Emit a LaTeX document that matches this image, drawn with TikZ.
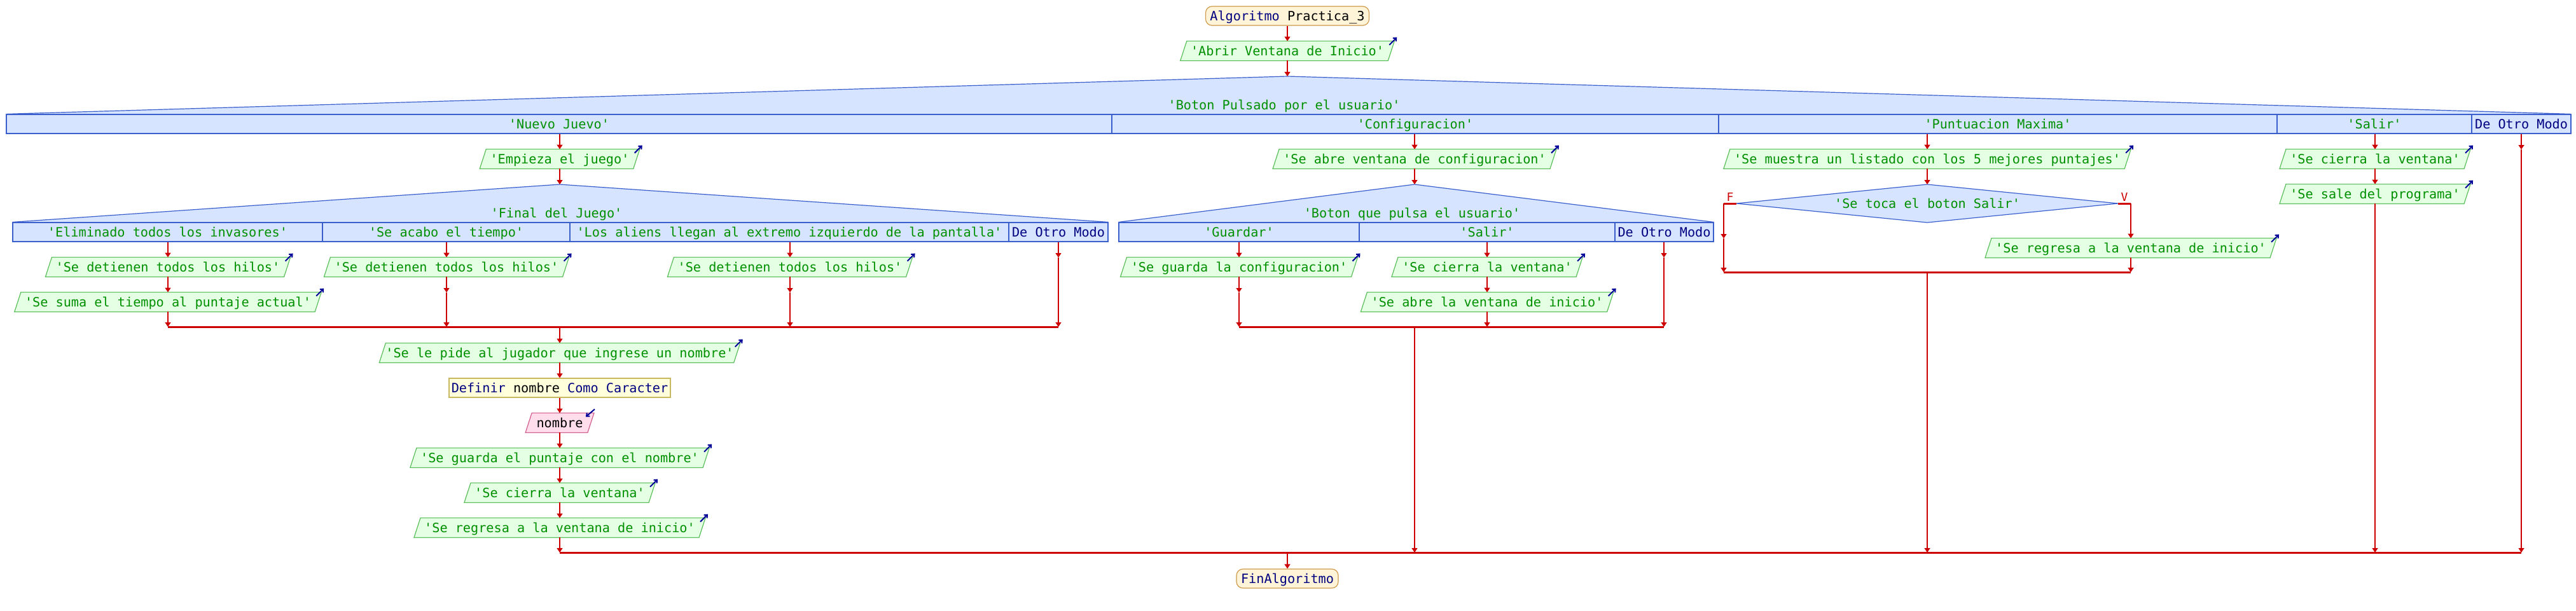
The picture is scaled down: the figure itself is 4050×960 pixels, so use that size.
\documentclass[tikz,border=0pt]{standalone}
\usepackage{fontspec}
\setmonofont{DejaVu Sans Mono}
\usetikzlibrary{arrows.meta,backgrounds}
\definecolor{cred}{HTML}{CC0000}
\definecolor{cstr}{HTML}{009000}
\definecolor{kw}{HTML}{000080}
\definecolor{outfill}{HTML}{E5FFE5}
\definecolor{outdraw}{HTML}{5ABF5A}
\definecolor{swfill}{HTML}{D6E4FF}
\definecolor{swdraw}{HTML}{3A5FCD}
\definecolor{stfill}{HTML}{FFF3D8}
\definecolor{stdraw}{HTML}{CF9A4A}
\definecolor{deffill}{HTML}{FFFFDC}
\definecolor{defdraw}{HTML}{C8B860}
\definecolor{infill}{HTML}{FFDDEB}
\definecolor{indraw}{HTML}{D0608F}
\definecolor{cicon}{HTML}{000099}
\begin{document}
\begin{tikzpicture}[x=0.5pt,y=-0.5pt,
  every node/.style={font=\ttfamily\fontsize{10.1}{12}\selectfont, inner sep=0pt, text height=7.3pt, text depth=0pt},
  conn/.style={draw=cred, line width=0.75pt},
  arr/.style={conn, -{Triangle[width=4.5pt,length=3.5pt]}},
  joinl/.style={draw=cred, line width=1.5pt},
  wd/.style={minimum width={#1*0.5pt}},
  outn/.style={minimum height=15pt, text=cstr},
  pn/.style={outn, minimum width={(12.15*#1+32)*0.5pt}},
  outshape/.style={fill=outfill, draw=outdraw, line width=0.6pt},
  inshape/.style={fill=infill, draw=indraw, line width=0.6pt},
  cell/.style={draw=swdraw, fill=swfill, line width=0.6pt, minimum height=15pt, text=cstr},
  startn/.style={draw=stdraw, fill=stfill, line width=0.6pt, rounded corners=5pt, minimum height=15pt, text=black},
  defn/.style={draw=defdraw, fill=deffill, line width=0.6pt, minimum height=15pt, text=black},
  swline/.style={draw=swdraw, line width=0.6pt},
  icon/.style={draw=cicon, line width=1pt, -{Straight Barb[length=2pt,width=3.5pt]}},
  flab/.style={text=cred, font=\ttfamily\fontsize{9}{11}\selectfont}
]
\useasboundingbox (0,0) rectangle (4050,960);

% ---------- top ----------
\node[startn, wd=257] (start) at (2024,25) {{\color{kw}Algoritmo} Practica\_3};
\node[pn=25] (abrir) at (2024,80) {'Abrir Ventana de Inicio'};
\coordinate (apexO) at (2024,120);
\draw[arr] (start.south) -- (abrir.north);
\draw[arr] (abrir.south) -- (apexO);

% ---------- outer switch ----------
\node[text=cstr] (ot) at (2019,165) {'Boton Pulsado por el usuario'};
\node[cell, wd=1738] (o1) at (879,195) {'Nuevo Juevo'};
\node[cell, wd=954] (o2) at (2225,195) {'Configuracion'};
\node[cell, wd=878] (o3) at (3141,195) {'Puntuacion Maxima'};
\node[cell, wd=306] (o4) at (3733,195) {'Salir'};
\node[cell, wd=156, text=kw] (o5) at (3964,195) {De Otro Modo};

% ---------- Nuevo Juevo ----------
\node[pn=18] (emp) at (880,250) {'Empieza el juego'};
\draw[arr] (o1.south -| emp.north) -- (emp.north);
\coordinate (apexA) at (880,290);
\draw[arr] (emp.south) -- (apexA);
\node[text=cstr] (at) at (875,335) {'Final del Juego'};
\node[cell, wd=487] (a1) at (263.5,365) {'Eliminado todos los invasores'};
\node[cell, wd=389] (a2) at (701.5,365) {'Se acabo el tiempo'};
\node[cell, wd=690] (a3) at (1241,365) {'Los aliens llegan al extremo izquierdo de la pantalla'};
\node[cell, wd=156, text=kw] (a4) at (1664,365) {De Otro Modo};

\node[pn=29] (h1) at (264,420) {'Se detienen todos los hilos'};
\node[pn=37] (suma) at (264,475) {'Se suma el tiempo al puntaje actual'};
\node[pn=29] (h2) at (702,420) {'Se detienen todos los hilos'};
\node[pn=29] (h3) at (1242,420) {'Se detienen todos los hilos'};

\coordinate (jA1) at (264,514);
\coordinate (jA2) at (702,514);
\coordinate (jA3) at (1242,514);
\coordinate (jA4) at (1664,514);
\coordinate (jAc) at (880,514);
\coordinate (mA2) at (702,460);
\coordinate (mA3) at (1242,460);
\coordinate (mA4) at (1664,405);

\draw[joinl] (jA1) -- (jA4);
\draw[arr] (a1.south -| h1.north) -- (h1.north);
\draw[arr] (h1.south) -- (suma.north);
\draw[arr] (suma.south) -- (jA1);
\draw[arr] (a2.south -| h2.north) -- (h2.north);
\draw[arr] (h2.south) -- (mA2);
\draw[arr] (mA2) -- (jA2);
\draw[arr] (a3.south -| h3.north) -- (h3.north);
\draw[arr] (h3.south) -- (mA3);
\draw[arr] (mA3) -- (jA3);
\draw[arr] (a4.south) -- (mA4);
\draw[arr] (mA4) -- (jA4);

\node[pn=44] (pide) at (880,555) {'Se le pide al jugador que ingrese un nombre'};
\node[defn, wd=348] (def) at (880,610) {{\color{kw}Definir} nombre {\color{kw}Como Caracter}};
\node[minimum height=15pt, wd=107, text=black] (nom) at (880,665) {nombre};
\node[pn=36] (guar) at (880,720) {'Se guarda el puntaje con el nombre'};
\node[pn=22] (cie1) at (880,775) {'Se cierra la ventana'};
\node[pn=35] (reg1) at (880,830) {'Se regresa a la ventana de inicio'};
\coordinate (f1) at (880,869);
\draw[arr] (jAc) -- (pide.north);
\draw[arr] (pide.south) -- (def.north);
\draw[arr] (def.south) -- (nom.north);
\draw[arr] (nom.south) -- (guar.north);
\draw[arr] (guar.south) -- (cie1.north);
\draw[arr] (cie1.south) -- (reg1.north);
\draw[arr] (reg1.south) -- (f1);

% ---------- Configuracion ----------
\node[pn=34] (abc) at (2224,250) {'Se abre ventana de configuracion'};
\draw[arr] (o2.south -| abc.north) -- (abc.north);
\coordinate (apexB) at (2224,290);
\draw[arr] (abc.south) -- (apexB);
\node[text=cstr] (bt) at (2220,335) {'Boton que pulsa el usuario'};
\node[cell, wd=378] (b1) at (1948,365) {'Guardar'};
\node[cell, wd=402] (b2) at (2338,365) {'Salir'};
\node[cell, wd=155, text=kw] (b3) at (2616.5,365) {De Otro Modo};
\node[pn=28] (gc) at (1948,420) {'Se guarda la configuracion'};
\node[pn=22] (cie2) at (2338,420) {'Se cierra la ventana'};
\node[pn=30] (abi) at (2338,475) {'Se abre la ventana de inicio'};
\coordinate (mB1) at (1948,460);
\coordinate (jB1) at (1948,514);
\coordinate (jB2) at (2338,514);
\coordinate (mB3) at (2616,405);
\coordinate (jB3) at (2616,514);
\coordinate (jBc) at (2224,514);
\coordinate (f2) at (2224,869);
\draw[joinl] (jB1) -- (jB3);
\draw[arr] (b1.south) -- (gc.north);
\draw[arr] (gc.south) -- (mB1);
\draw[arr] (mB1) -- (jB1);
\draw[arr] (b2.south) -- (cie2.north);
\draw[arr] (cie2.south) -- (abi.north);
\draw[arr] (abi.south) -- (jB2);
\draw[arr] (b3.south -| mB3) -- (mB3);
\draw[arr] (mB3) -- (jB3);
\draw[arr] (jBc) -- (f2);

% ---------- Puntuacion Maxima ----------
\node[pn=50] (mue) at (3030,250) {'Se muestra un listado con los 5 mejores puntajes'};
\draw[arr] (o3.south -| mue.north) -- (mue.north);
\coordinate (dT) at (3030,290);
\coordinate (dL) at (2730,320);
\coordinate (dR) at (3330,320);
\coordinate (dB) at (3030,350);
\draw[arr] (mue.south) -- (dT);
\node[text=cstr] (dia) at (3030,320) {'Se toca el boton Salir'};
\node[flab] (lf) at (2720,309) {F};
\node[flab] (lv) at (3340,309) {V};
\coordinate (fC) at (2710,320);
\coordinate (fM) at (2710,375);
\coordinate (jC1) at (2710,428);
\coordinate (vC) at (3350,320);
\coordinate (jC2) at (3350,428);
\coordinate (jCc) at (3030,428);
\coordinate (f3) at (3030,869);
\node[pn=35] (reg2) at (3350,390) {'Se regresa a la ventana de inicio'};
\draw[joinl] (jC1) -- (jC2);
\draw[joinl] (dL) -- (fC);
\draw[joinl] (dR) -- (vC);
\draw[arr] (fC) -- (fM);
\draw[arr] (fM) -- (jC1);
\draw[arr] (vC) -- (reg2.north);
\draw[arr] (reg2.south) -- (jC2);
\draw[arr] (jCc) -- (f3);

% ---------- Salir ----------
\node[pn=22] (cie3) at (3734,250) {'Se cierra la ventana'};
\node[pn=22] (sale) at (3734,305) {'Se sale del programa'};
\coordinate (f4) at (3734,869);
\draw[arr] (o4.south -| cie3.north) -- (cie3.north);
\draw[arr] (cie3.south) -- (sale.north);
\draw[arr] (sale.south) -- (f4);

% ---------- De Otro Modo ----------
\coordinate (m5) at (3964,235);
\coordinate (f5) at (3964,869);
\draw[arr] (o5.south) -- (m5);
\draw[arr] (m5) -- (f5);

% ---------- end ----------
\coordinate (fc) at (2024,869);
\node[startn, wd=160] (fin) at (2024,910) {\color{kw}FinAlgoritmo};
\draw[joinl] (f1) -- (f5);
\draw[arr] (fc) -- (fin.north);

% ---------- icons ----------
\foreach \n in {abrir,emp,h1,suma,h2,h3,pide,guar,cie1,reg1,abc,gc,cie2,abi,mue,reg2,cie3,sale}
  \draw[icon] ([xshift=-4pt,yshift=-3pt]\n.north east) -- ([xshift=2pt,yshift=3pt]\n.north east);
\draw[icon] ([xshift=0.5pt,yshift=3pt]nom.north east) -- ([xshift=-6.5pt,yshift=-3pt]nom.north east);

% ---------- background shapes ----------
\begin{scope}[on background layer]
  \fill[white] (0,0) rectangle (4050,960);
  \fill[swfill] (o1.north west) -- (apexO) -- (o5.north east) -- cycle;
  \draw[swline] (o1.north west) -- (apexO) -- (o5.north east);
  \fill[swfill] (a1.north west) -- (apexA) -- (a4.north east) -- cycle;
  \draw[swline] (a1.north west) -- (apexA) -- (a4.north east);
  \fill[swfill] (b1.north west) -- (apexB) -- (b3.north east) -- cycle;
  \draw[swline] (b1.north west) -- (apexB) -- (b3.north east);
  \draw[swline, fill=swfill] (dL) -- (dT) -- (dR) -- (dB) -- cycle;
  \foreach \n in {abrir,emp,h1,suma,h2,h3,pide,guar,cie1,reg1,abc,gc,cie2,abi,mue,reg2,cie3,sale}
    \draw[outshape] ([xshift=5pt]\n.north west) -- (\n.north east) -- ([xshift=-5pt]\n.south east) -- (\n.south west) -- cycle;
  \draw[inshape] ([xshift=5pt]nom.north west) -- (nom.north east) -- ([xshift=-5pt]nom.south east) -- (nom.south west) -- cycle;
\end{scope}
\end{tikzpicture}
\end{document}
